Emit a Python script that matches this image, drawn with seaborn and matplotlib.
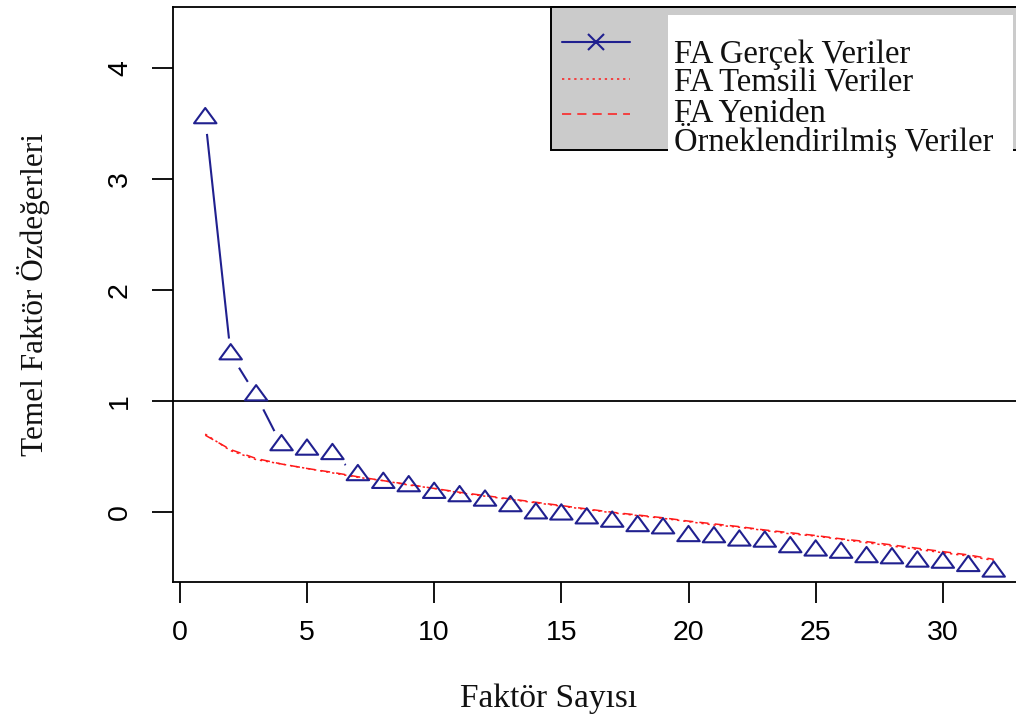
import matplotlib
matplotlib.use("Agg")
import matplotlib.pyplot as plt
from matplotlib.path import Path
from matplotlib.patches import Rectangle
from matplotlib.lines import Line2D
import seaborn as sns

# ---------------- data ----------------
factor_no = list(range(1, 33))
fa_actual = [3.55, 1.42, 1.05, 0.60, 0.56, 0.52, 0.33, 0.26, 0.23, 0.17,
             0.14, 0.10, 0.05, -0.015, -0.025, -0.06, -0.09, -0.13, -0.15, -0.22,
             -0.23, -0.26, -0.27, -0.32, -0.35, -0.37, -0.41, -0.42, -0.45, -0.46,
             -0.49, -0.54]
fa_simulated = [0.70, 0.55, 0.47, 0.43, 0.39, 0.35, 0.31, 0.28, 0.24, 0.21,
                0.17, 0.14, 0.11, 0.08, 0.05, 0.02, -0.01, -0.035, -0.06, -0.09,
                -0.12, -0.14, -0.17, -0.20, -0.22, -0.25, -0.28, -0.31, -0.34, -0.37,
                -0.40, -0.44]
fa_resampled = [0.69, 0.56, 0.48, 0.43, 0.39, 0.355, 0.315, 0.28, 0.245, 0.21,
                0.175, 0.145, 0.115, 0.085, 0.055, 0.025, -0.005, -0.03, -0.055, -0.085,
                -0.11, -0.135, -0.165, -0.19, -0.215, -0.245, -0.27, -0.30, -0.33, -0.36,
                -0.39, -0.43]
x_ticks = [0, 5, 10, 15, 20, 25, 30]
x_tick_labels = ["0", "5", "10", "15", "20", "25", "30"]
y_ticks = [0, 1, 2, 3, 4]
y_tick_labels = ["0", "1", "2", "3", "4"]
legend_labels = ["FA Gerçek Veriler", "FA Temsili Veriler", "FA Yeniden",
                 "Örneklendirilmiş Veriler"]
x_label = "Faktör Sayısı"
y_label = "Temel Faktör Özdeğerleri"
reference_value = 1

# ---------------- style ----------------
sns.set_style("ticks")
plt.rcParams["font.family"] = ["Liberation Sans", "DejaVu Sans"]
SERIF = ["Liberation Serif", "DejaVu Serif"]
NAVY = "#20208f"
RED = "#ff1a1a"

W, H = 1016, 724
fig = plt.figure(figsize=(W / 100, H / 100), dpi=100)
fig.patch.set_facecolor("white")

AX_L, AX_R, AX_T, AX_B = 172.7, 1025.0, 7.0, 582.3


def fx(px):
    return px / W


def fy(py):
    return 1 - py / H


ax = fig.add_axes([fx(AX_L), fy(AX_B), fx(AX_R) - fx(AX_L), fy(AX_T) - fy(AX_B)])
ax.set_facecolor("white")

# blue line of actual data (type = "b" style: gaps around points)
sns.lineplot(x=factor_no, y=fa_actual, color=NAVY, lw=1.5, zorder=2, ax=ax)
sns.scatterplot(x=factor_no, y=fa_actual, s=520, color="white", edgecolor="none",
                linewidth=0, zorder=2.5, ax=ax, legend=False)
# red simulated / resampled lines
sns.lineplot(x=factor_no, y=fa_simulated, color=RED, lw=1.1,
             linestyle=(0, (1.5, 2.5)), zorder=3, ax=ax)
sns.lineplot(x=factor_no, y=fa_resampled, color=RED, lw=1.1,
             linestyle=(0, (6, 4)), zorder=3, ax=ax)
ax.axhline(reference_value, color="black", lw=1.3, zorder=3.5)

# open triangles (centroid-centered, like R pch = 2)
tri = Path([(0, 1), (-1.1, -0.5), (1.1, -0.5), (0, 1)],
           [Path.MOVETO, Path.LINETO, Path.LINETO, Path.CLOSEPOLY])
sns.scatterplot(x=factor_no, y=fa_actual, marker=tri, s=260, color=NAVY,
                facecolor="none", edgecolor=NAVY, linewidth=1.5, zorder=4,
                ax=ax, legend=False)

ax.set_xlim(-0.28, 33.23)
ax.set_ylim(-0.637, 4.553)
ax.set_xticks(x_ticks)
ax.set_xticklabels(x_tick_labels)
ax.set_yticks(y_ticks)
ax.set_yticklabels(y_tick_labels)
ax.tick_params(axis="both", direction="out", length=15, width=1.3,
               labelsize=20.5, colors="black")
ax.tick_params(axis="x", pad=12)
ax.tick_params(axis="y", pad=13.5)
plt.setp(ax.get_yticklabels(), rotation=90, va="center")
for sp in ax.spines.values():
    sp.set_visible(True)
    sp.set_linewidth(1.3)
    sp.set_color("black")

ax.set_xlabel(x_label, fontsize=24, family=SERIF, color="#111111")
ax.set_ylabel(y_label, fontsize=22.5, family=SERIF, color="#111111")
ax.xaxis.set_label_coords((549 - AX_L) / (AX_R - AX_L), (AX_B - 684.0) / (AX_B - AX_T))
ax.yaxis.set_label_coords((49.7 - AX_L) / (AX_R - AX_L), 0.5)

# ---------------- legend box ----------------
gray = Rectangle((fx(551), fy(150)), fx(AX_R) - fx(551), fy(AX_T) - fy(150),
                 transform=fig.transFigure, facecolor="#cbcbcb",
                 edgecolor="black", lw=1.4, zorder=4)
fig.add_artist(gray)
white = Rectangle((fx(668), fy(164)), fx(1013) - fx(668), fy(15) - fy(164),
                  transform=fig.transFigure, facecolor="white",
                  edgecolor="none", zorder=4.5)
fig.add_artist(white)

handles = [
    Line2D([], [], color=NAVY, lw=1.5, marker="x", markersize=11, markeredgewidth=1.5),
    Line2D([], [], color=RED, lw=1.1, linestyle=(0, (1.5, 2.5))),
    Line2D([], [], color=RED, lw=1.1, linestyle=(0, (6, 4))),
]
handle_rows = [43, 80, 115]
for h, yy in zip(handles, handle_rows):
    fig.legend(handles=[h], labels=[""], loc="center",
               bbox_to_anchor=(fx(596), fy(yy)), bbox_transform=fig.transFigure,
               frameon=False, borderpad=0, borderaxespad=0, handletextpad=0,
               handlelength=4.9, fontsize=10)

text_rows = [63, 92, 122, 151]
for s, yy in zip(legend_labels, text_rows):
    fig.text(fx(674), fy(yy), s, ha="left", va="baseline", fontsize=23.5,
             family=SERIF, color="#111111", zorder=6)

fig.savefig("out.png", dpi=100)
